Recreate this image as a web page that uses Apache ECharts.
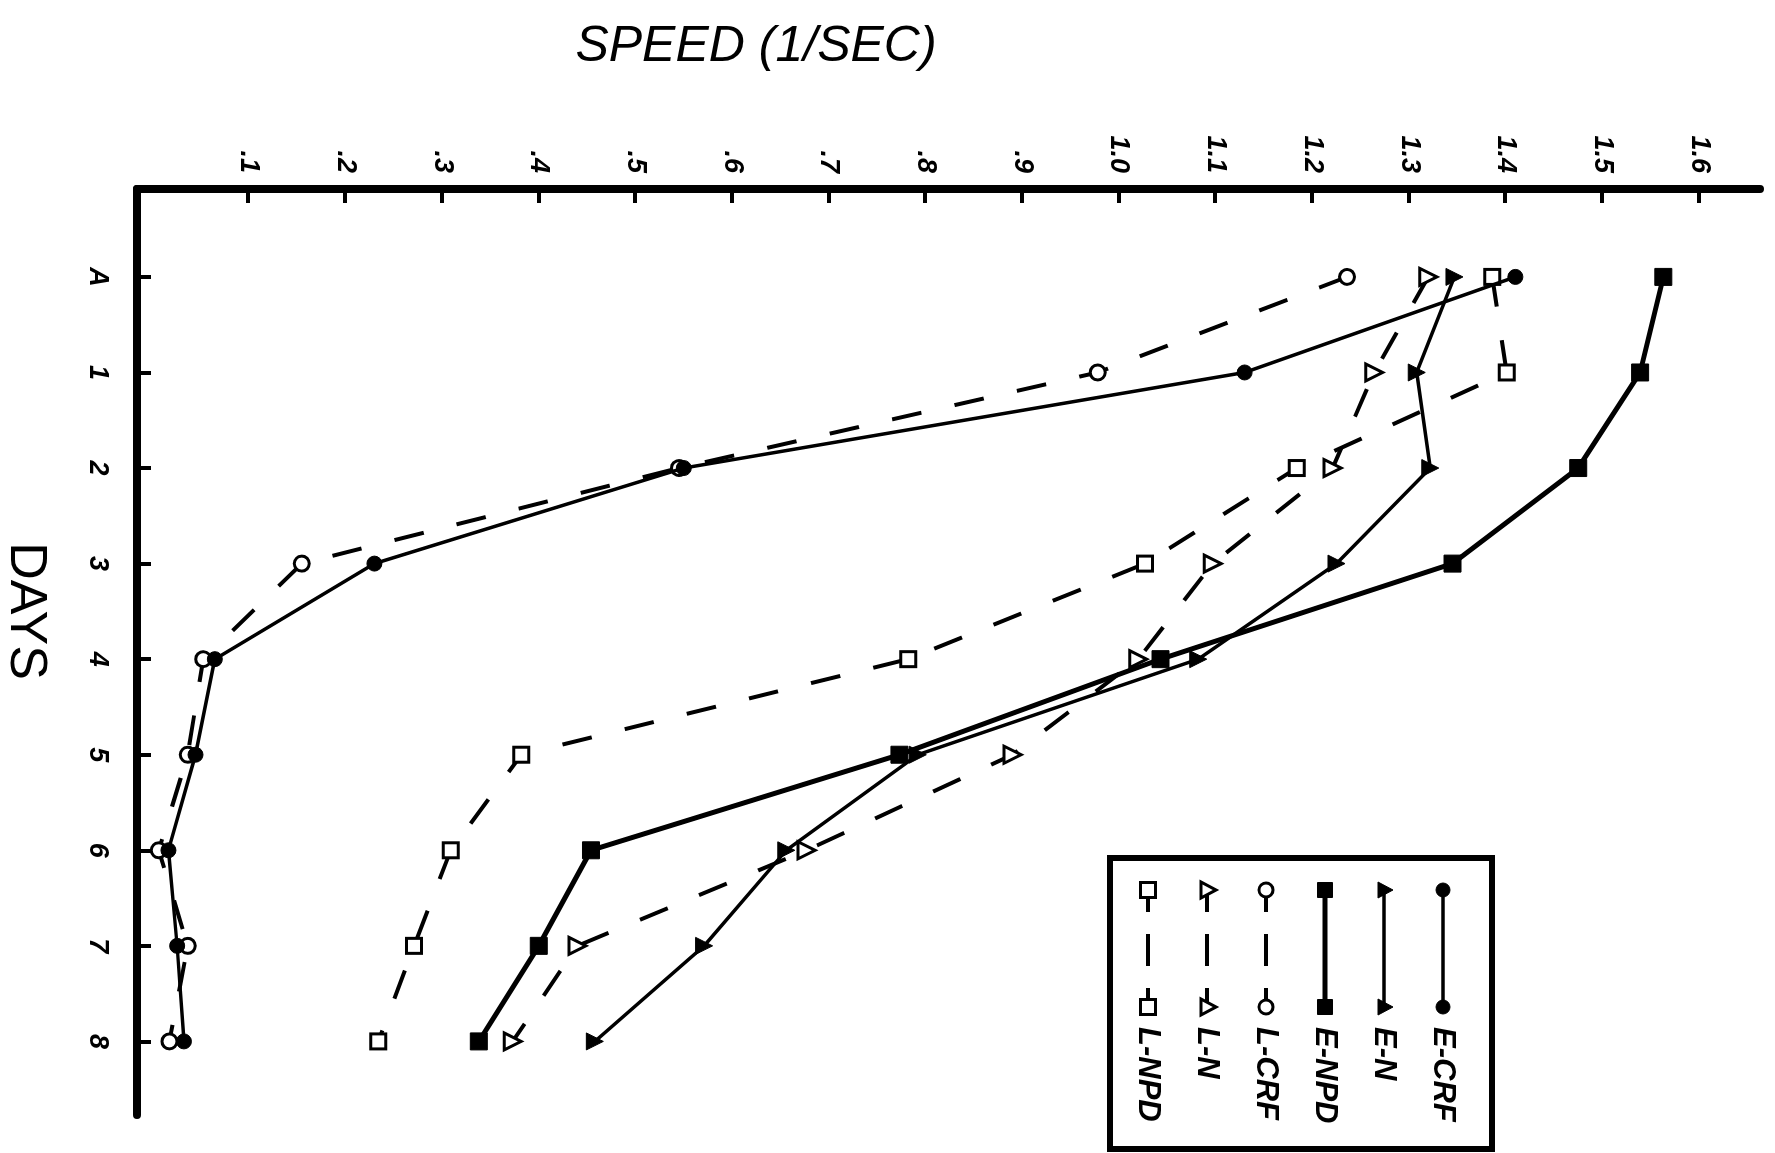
<!DOCTYPE html>
<html><head><meta charset="utf-8">
<script src="https://cdn.jsdelivr.net/npm/echarts@6/dist/echarts.min.js"></script>
<style>
html,body{margin:0;padding:0;width:1775px;height:1153px;overflow:hidden;background:#fff;}
#wrap{position:absolute;left:0;top:0;width:1153px;height:1775px;transform-origin:0 0;transform:translate(1775px,0) rotate(90deg);}
</style></head><body><div id="wrap"></div>
<script>
// ---- data ----
const days = ['A', '1', '2', '3', '4', '5', '6', '7', '8'];
const dayIndex = [0, 1, 2, 3, 4, 5, 6, 7, 8];
const speedTicks = [0.1, 0.2, 0.3, 0.4, 0.5, 0.6, 0.7, 0.8, 0.9, 1.0, 1.1, 1.2, 1.3, 1.4, 1.5, 1.6];
const speedTickLabels = ['.1', '.2', '.3', '.4', '.5', '.6', '.7', '.8', '.9', '1.0', '1.1', '1.2', '1.3', '1.4', '1.5', '1.6'];
const seriesNames = ['E-CRF', 'E-N', 'E-NPD', 'L-CRF', 'L-N', 'L-NPD'];
const E_CRF = [1.41, 1.13, 0.55, 0.23, 0.065, 0.045, 0.017, 0.026, 0.033];
const E_N   = [1.347, 1.308, 1.322, 1.225, 1.082, 0.792, 0.656, 0.571, 0.458];
const E_NPD = [1.563, 1.539, 1.475, 1.345, 1.043, 0.773, 0.454, 0.40, 0.338];
const L_CRF = [1.236, 0.978, 0.545, 0.155, 0.053, 0.037, 0.007, 0.037, 0.018];
const L_N   = [1.32, 1.264, 1.221, 1.097, 1.02, 0.89, 0.677, 0.44, 0.373];
const L_NPD = [1.386, 1.401, 1.184, 1.027, 0.782, 0.382, 0.309, 0.271, 0.234];
const titleText = 'SPEED (1/SEC)';
const daysText = 'DAYS';

// ---- styles ----
const seriesData = [E_CRF, E_N, E_NPD, L_CRF, L_N, L_NPD];
const styles = [
  {symbol: 'circle',   filled: true,  dashed: false, width: 3.5, size: 15},
  {symbol: 'triangle', filled: true,  dashed: false, width: 3.5, size: 17},
  {symbol: 'rect',     filled: true,  dashed: false, width: 5,   size: 17},
  {symbol: 'circle',   filled: false, dashed: true,  width: 4,   size: 15},
  {symbol: 'triangle', filled: false, dashed: true,  width: 4,   size: 17},
  {symbol: 'rect',     filled: false, dashed: true,  width: 4,   size: 15}
];
const FONT = '"Liberation Sans", Arial, sans-serif';

const series = seriesNames.map((name, i) => {
  const st = styles[i];
  return {
    name: name,
    type: 'line',
    data: seriesData[i].map((v, k) => [dayIndex[k], v]),
    symbol: st.symbol,
    symbolSize: st.size,
    showSymbol: true,
    clip: false,
    z: st.dashed ? 3 : 4,
    lineStyle: {color: '#000', width: st.width, type: st.dashed ? [30, 34] : 'solid'},
    itemStyle: st.filled ? {color: '#000', borderColor: '#000', borderWidth: 1}
                         : {color: '#fff', borderColor: '#000', borderWidth: 3},
    emphasis: {disabled: true}
  };
});

// ---- legend (drawn as graphic, rotated page) ----
const graphics = [];
const box = {x: 858, y: 283, w: 291, h: 382};
graphics.push({type: 'rect', shape: {x: box.x, y: box.y, width: box.w, height: box.h},
  style: {fill: '#fff', stroke: '#000', lineWidth: 6}, z: 10});
function marker(st, cx, cy) {
  const style = {fill: st.filled ? '#000' : '#fff', stroke: '#000', lineWidth: st.filled ? 1 : 3};
  if (st.symbol === 'circle') return {type: 'circle', shape: {cx: cx, cy: cy, r: 7}, style: style, z: 12};
  if (st.symbol === 'rect') return {type: 'rect', shape: {x: cx - 7.5, y: cy - 7.5, width: 15, height: 15}, style: style, z: 12};
  return {type: 'polygon', shape: {points: [[cx, cy - 9], [cx - 8, cy + 6], [cx + 8, cy + 6]]}, style: style, z: 12};
}
seriesNames.forEach((name, i) => {
  const st = styles[i];
  const y = box.y + 49 + i * 59;
  const x0 = 890, x1 = 1007;
  const segs = st.dashed ? [[x0, 912], [934, 966], [988, x1]] : [[x0, x1]];
  segs.forEach(s => graphics.push({type: 'line', shape: {x1: s[0], y1: y, x2: s[1], y2: y},
    style: {stroke: '#000', lineWidth: st.dashed ? 4 : st.width}, z: 11}));
  graphics.push(marker(st, x0, y));
  graphics.push(marker(st, x1, y));
  graphics.push({type: 'text', x: 1027, y: y, z: 12,
    style: {text: name, font: 'italic bold 31px ' + FONT, fill: '#000', textAlign: 'left', verticalAlign: 'middle', textVerticalAlign: 'middle'}});
});
graphics.push({type: 'text', x: 47, y: 1019, rotation: Math.PI / 2, z: 12,
  style: {text: titleText, font: 'italic 50px ' + FONT, fill: '#000', textAlign: 'center', verticalAlign: 'middle', textVerticalAlign: 'middle'}});
graphics.push({type: 'text', x: 611, y: 1750, z: 12,
  style: {text: daysText, font: '52px ' + FONT, fill: '#000', textAlign: 'center', verticalAlign: 'middle', textVerticalAlign: 'middle'}});

const chart = echarts.init(document.getElementById('wrap'), null, {width: 1153, height: 1775});
chart.setOption({
  animation: false,
  backgroundColor: '#fff',
  grid: {left: 189, right: 38, top: 15, bottom: 137},
  xAxis: {
    type: 'value', position: 'bottom', min: -0.92, max: 8.77,
    splitLine: {show: false},
    axisLine: {show: true, onZero: false, lineStyle: {color: '#000', width: 8, cap: 'round'}},
    axisTick: {show: true, inside: true, length: 14, customValues: dayIndex, lineStyle: {color: '#000', width: 4}},
    axisLabel: {show: true, customValues: dayIndex, margin: 26, fontSize: 27, fontWeight: 'bold', fontFamily: FONT, fontStyle: 'italic', color: '#000',
      formatter: v => days[Math.round(v)]}
  },
  yAxis: {
    type: 'value', position: 'left', min: -0.0155, max: 1.663,
    splitLine: {show: false},
    axisLine: {show: true, onZero: false, lineStyle: {color: '#000', width: 8, cap: 'round'}},
    axisTick: {show: true, inside: true, length: 14, customValues: speedTicks, lineStyle: {color: '#000', width: 4}},
    axisLabel: {show: true, customValues: speedTicks, margin: 16, fontSize: 27, fontWeight: 'bold', fontFamily: FONT, fontStyle: 'italic', color: '#000',
      formatter: v => speedTickLabels[Math.round(v * 10) - 1]}
  },
  graphic: graphics,
  series: series
});
</script></body></html>
